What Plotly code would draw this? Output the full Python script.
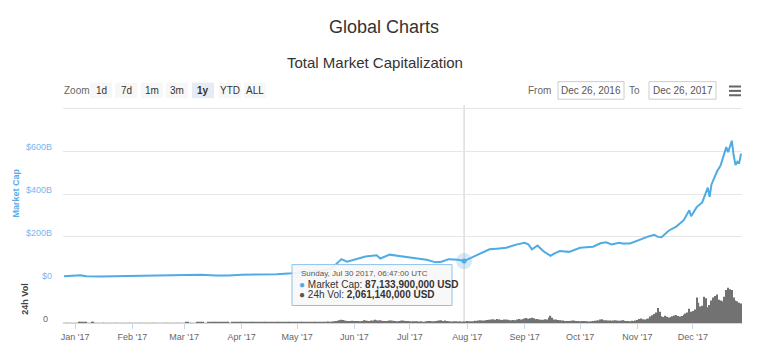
import plotly.graph_objects as go
import pandas as pd

# ---------------- data ----------------
mc_dates = ["2016-12-26", "2017-01-01", "2017-01-04", "2017-01-07", "2017-01-11", "2017-01-15",
            "2017-01-22", "2017-02-01", "2017-02-10", "2017-02-20", "2017-03-01", "2017-03-10",
            "2017-03-18", "2017-03-25", "2017-04-01", "2017-04-10", "2017-04-20", "2017-04-28",
            "2017-05-05", "2017-05-12", "2017-05-17", "2017-05-20", "2017-05-23", "2017-05-25",
            "2017-05-28", "2017-06-02", "2017-06-07", "2017-06-13", "2017-06-15", "2017-06-20",
            "2017-06-25", "2017-06-29", "2017-07-04", "2017-07-10", "2017-07-15", "2017-07-18",
            "2017-07-22", "2017-07-27", "2017-07-30 06:47", "2017-08-06", "2017-08-10", "2017-08-13",
            "2017-08-17", "2017-08-22", "2017-08-25", "2017-08-28", "2017-09-01", "2017-09-03",
            "2017-09-05", "2017-09-08", "2017-09-11", "2017-09-15", "2017-09-17", "2017-09-20",
            "2017-09-25", "2017-10-01", "2017-10-08", "2017-10-12", "2017-10-15", "2017-10-18",
            "2017-10-22", "2017-10-24", "2017-10-28", "2017-11-02", "2017-11-07", "2017-11-10",
            "2017-11-12", "2017-11-14", "2017-11-18", "2017-11-22", "2017-11-26", "2017-11-29",
            "2017-11-30", "2017-12-03", "2017-12-06", "2017-12-09", "2017-12-10", "2017-12-11",
            "2017-12-14", "2017-12-16", "2017-12-18", "2017-12-19", "2017-12-20", "2017-12-22",
            "2017-12-23", "2017-12-24", "2017-12-25", "2017-12-26", "2017-12-27"]
mc_values = [16, 17.5, 21, 16, 14, 15,
             15.5, 16.5, 16.5, 18, 21, 22.5,
             19.5, 19, 23, 24, 26, 30,
             35, 38, 45, 55, 81, 96,
             84, 96, 108, 114, 99, 117,
             111, 104, 101, 93, 81, 84,
             96, 93, 87.1339, 114, 128, 142,
             145, 149, 157, 165, 172, 165,
             142, 160, 134, 111, 122, 134,
             130, 149, 154, 170, 175, 165,
             172, 169, 169, 187, 202, 210,
             200, 198, 230, 248, 278, 324,
             296, 339, 361, 430, 387, 445,
             505, 535, 596, 619, 596, 649,
             581, 535, 551, 546, 589]

# daily 24h volume (billion USD), Dec 26 2016 .. Dec 27 2017
vol_dec16 = [0.2, 0.25, 0.3, 0.35, 0.3, 0.25]
vol_jan = [0.3, 0.45, 0.6, 0.9, 1.1, 0.8, 0.5, 0.4, 0.4, 0.5, 0.6, 0.4, 0.3, 0.3, 0.25, 0.25,
           0.3, 0.3, 0.25, 0.25, 0.2, 0.2, 0.2, 0.25, 0.2, 0.2, 0.2, 0.2, 0.2, 0.2, 0.25]
vol_feb = [0.25, 0.25, 0.3, 0.3, 0.25, 0.25, 0.3, 0.3, 0.3, 0.35, 0.3, 0.25, 0.25, 0.3,
           0.3, 0.3, 0.3, 0.3, 0.25, 0.3, 0.3, 0.35, 0.4, 0.45, 0.35, 0.3, 0.35, 0.4]
vol_mar = [0.45, 0.5, 0.55, 0.45, 0.4, 0.4, 0.45, 0.5, 0.5, 0.55, 0.5, 0.45, 0.45, 0.55, 0.6, 0.6,
           0.65, 0.7, 0.6, 0.55, 0.5, 0.55, 0.5, 0.5, 0.5, 0.45, 0.5, 0.5, 0.55, 0.55, 0.5]
vol_apr = [0.5, 0.55, 0.6, 0.6, 0.6, 0.65, 0.6, 0.55, 0.5, 0.55, 0.55, 0.55, 0.6, 0.55, 0.5,
           0.5, 0.55, 0.6, 0.6, 0.65, 0.6, 0.6, 0.6, 0.7, 0.7, 0.9, 0.9, 0.9, 0.8, 0.8]
vol_may = [0.9, 1.0, 1.1, 1.2, 1.3, 1.2, 1.1, 1.2, 1.4, 1.5, 1.5, 1.3, 1.2, 1.2, 1.4, 1.6,
           1.8, 2.0, 1.8, 2.0, 2.4, 2.6, 3.0, 3.8, 4.5, 4.0, 3.2, 2.8, 2.6, 2.8, 3.0]
vol_jun = [2.6, 2.8, 2.6, 2.4, 2.6, 3.6, 3.4, 3.0, 2.8, 3.2, 3.4, 4.4, 3.6, 3.2, 3.8,
           3.0, 2.8, 2.6, 2.8, 3.4, 3.2, 3.0, 2.6, 2.4, 2.6, 3.0, 3.4, 3.0, 2.8, 2.6]
vol_jul = [2.4, 2.0, 2.2, 2.4, 2.2, 2.0, 2.2, 1.8, 1.6, 2.4, 2.6, 2.8, 2.2, 2.4, 2.6, 3.0,
           3.4, 3.6, 2.8, 3.2, 2.6, 2.4, 2.0, 2.0, 2.2, 2.4, 2.0, 2.2, 1.8, 2.06, 2.0]
vol_aug = [2.6, 2.4, 2.2, 2.4, 3.0, 2.8, 3.2, 3.6, 3.4, 3.2, 3.8, 4.0, 4.4, 4.8, 5.0, 4.2,
           5.2, 4.6, 4.4, 4.0, 4.8, 4.6, 4.2, 3.8, 3.6, 4.0, 3.8, 4.6, 5.4, 4.8, 5.0]
vol_sep = [6.0, 6.8, 5.6, 6.4, 7.0, 6.2, 5.0, 5.4, 4.6, 4.2, 4.4, 5.0, 4.6, 7.4, 9.8,
           7.0, 4.8, 4.6, 4.0, 3.6, 3.4, 3.2, 2.8, 2.6, 2.8, 3.0, 3.2, 3.0, 2.8, 2.6]
vol_oct = [2.4, 2.6, 2.8, 2.4, 2.2, 2.0, 2.2, 2.6, 3.0, 3.2, 3.4, 4.6, 5.0, 3.8, 3.6, 3.4,
           3.2, 3.0, 3.4, 3.6, 3.2, 3.0, 3.4, 3.6, 3.0, 2.8, 2.6, 2.4, 3.0, 2.8, 3.2]
vol_nov = [4.0, 5.2, 6.0, 5.0, 4.6, 5.4, 6.0, 8.6, 10.4, 12.0, 14.0, 20.0, 15.0, 9.0, 8.0,
           9.6, 8.4, 7.4, 8.0, 9.0, 10.0, 10.6, 9.4, 8.8, 9.4, 11.0, 12.6, 14.0, 19.0, 15.0]
vol_dec = [16, 18, 34, 27, 22, 23, 35, 33, 21, 24, 30, 34, 36, 38, 31, 30, 29, 35,
           44, 47, 45, 44, 34, 30, 29, 27, 26]

vol_values = (vol_dec16 + vol_jan + vol_feb + vol_mar + vol_apr + vol_may + vol_jun + vol_jul
              + vol_aug + vol_sep + vol_oct + vol_nov + vol_dec)
vol_dates = pd.date_range("2016-12-26", periods=len(vol_values), freq="D")

mc_ticks = [0, 200, 400, 600, 800]
mc_ticktext = ["$0", "$200B", "$400B", "$600B", ""]

hover_date = "2017-07-30 06:47"
hover_mc = 87.1339
hover_header = "Sunday, Jul 30 2017, 06:47:00 UTC"
hover_mc_text = "87,133,900,000 USD"
hover_vol_text = "2,061,140,000 USD"

zoom_buttons = ["1d", "7d", "1m", "3m", "1y", "YTD", "ALL"]
from_date = "Dec 26, 2016"
to_date = "Dec 26, 2017"

# ---------------- layout helpers ----------------
W, H = 768, 354
L, R, T, B = 63, 26, 105, 25
PW, PH = W - L - R, H - T - B


def px(x):
    return (x - L) / PW


def py(y):
    return (H - B - y) / PH


FONT = "Liberation Sans, Arial, Helvetica, sans-serif"
LINE_C = "#4fabe4"

fig = go.Figure()

fig.add_trace(go.Bar(x=vol_dates, y=vol_values, yaxis="y2", xaxis="x",
                     marker=dict(color="#727272", line=dict(width=0)),
                     hoverinfo="skip", showlegend=False))

fig.add_trace(go.Scatter(x=mc_dates, y=mc_values, mode="lines", yaxis="y", xaxis="x",
                         line=dict(color=LINE_C, width=2), hoverinfo="skip", showlegend=False))

# hover halo + point
fig.add_trace(go.Scatter(x=[hover_date], y=[hover_mc], mode="markers", yaxis="y",
                         marker=dict(size=16, color="rgba(79,171,228,0.25)"),
                         hoverinfo="skip", showlegend=False))
fig.add_trace(go.Scatter(x=[hover_date], y=[hover_mc], mode="markers", yaxis="y",
                         marker=dict(size=5, color=LINE_C),
                         hoverinfo="skip", showlegend=False))

shapes = []
annotations = []

# crosshair
shapes.append(dict(type="line", xref="x", yref="paper", x0=hover_date, x1=hover_date,
                   y0=0, y1=1, line=dict(color="#cccccc", width=1), layer="below"))

# tooltip box
x0, x1, y0, y1 = px(292), px(452), py(311), py(269)
shapes.append(dict(type="rect", xref="paper", yref="paper", x0=x0, x1=x1, y0=y0, y1=y1,
                   fillcolor="rgba(247,247,247,0.92)", line=dict(color="#8cc3ee", width=1),
                   layer="above"))
annotations.append(dict(x=px(299), y=py(278.5), xref="paper", yref="paper", xanchor="left",
                        yanchor="middle", showarrow=False, text=hover_header,
                        font=dict(family=FONT, size=8, color="#555")))
annotations.append(dict(x=px(297), y=py(289.5), xref="paper", yref="paper", xanchor="left",
                        yanchor="middle", showarrow=False,
                        text=f"<span style='color:{LINE_C}'>●</span> Market Cap: <b>{hover_mc_text}</b>",
                        font=dict(family=FONT, size=10, color="#333")))
annotations.append(dict(x=px(297), y=py(300), xref="paper", yref="paper", xanchor="left",
                        yanchor="middle", showarrow=False,
                        text=f"<span style='color:#555'>●</span> 24h Vol: <b>{hover_vol_text}</b>",
                        font=dict(family=FONT, size=10, color="#333")))

# titles
annotations.append(dict(x=px(384), y=py(25), xref="paper", yref="paper", showarrow=False,
                        text="Global Charts", font=dict(family=FONT, size=18, color="#333"),
                        xanchor="center", yanchor="middle"))
annotations.append(dict(x=px(375), y=py(61), xref="paper", yref="paper", showarrow=False,
                        text="Total Market Capitalization",
                        font=dict(family=FONT, size=15, color="#333"),
                        xanchor="center", yanchor="middle"))

# range selector
annotations.append(dict(x=px(62), y=py(90), xref="paper", yref="paper", showarrow=False,
                        text="Zoom", font=dict(family=FONT, size=10, color="#666"),
                        xanchor="left", yanchor="middle"))
btn_centers = [101, 126, 152, 177, 203, 230, 255]
for lab, cx in zip(zoom_buttons, btn_centers):
    sel = lab == "1y"
    shapes.append(dict(type="rect", xref="paper", yref="paper", x0=px(cx - 11), x1=px(cx + 11),
                       y0=py(98), y1=py(82),
                       fillcolor="#e6ebf5" if sel else "#f7f7f7", line=dict(width=0)))
    annotations.append(dict(x=px(cx), y=py(90), xref="paper", yref="paper", showarrow=False,
                            text=f"<b>{lab}</b>" if sel else lab,
                            font=dict(family=FONT, size=10, color="#333"),
                            xanchor="center", yanchor="middle"))

annotations.append(dict(x=px(553), y=py(90), xref="paper", yref="paper", showarrow=False,
                        text="From", font=dict(family=FONT, size=10, color="#666"),
                        xanchor="right", yanchor="middle"))
shapes.append(dict(type="rect", xref="paper", yref="paper", x0=px(558), x1=px(624),
                   y0=py(99), y1=py(81), fillcolor="white", line=dict(color="#cccccc", width=1)))
annotations.append(dict(x=px(591), y=py(90), xref="paper", yref="paper", showarrow=False,
                        text=from_date, font=dict(family=FONT, size=10, color="#555"),
                        xanchor="center", yanchor="middle"))
annotations.append(dict(x=px(642), y=py(90), xref="paper", yref="paper", showarrow=False,
                        text="To", font=dict(family=FONT, size=10, color="#666"),
                        xanchor="right", yanchor="middle"))
shapes.append(dict(type="rect", xref="paper", yref="paper", x0=px(649), x1=px(716),
                   y0=py(99), y1=py(81), fillcolor="white", line=dict(color="#cccccc", width=1)))
annotations.append(dict(x=px(682.5), y=py(90), xref="paper", yref="paper", showarrow=False,
                        text=to_date, font=dict(family=FONT, size=10, color="#555"),
                        xanchor="center", yanchor="middle"))
for yy in (86, 90.5, 95):
    shapes.append(dict(type="line", xref="paper", yref="paper", x0=px(729), x1=px(741),
                       y0=py(yy), y1=py(yy), line=dict(color="#666", width=2)))

# axis titles
annotations.append(dict(x=px(16), y=py(196), xref="paper", yref="paper", showarrow=False,
                        text="<b>Market Cap</b>", textangle=-90,
                        font=dict(family=FONT, size=9, color="#5aaee8"),
                        xanchor="center", yanchor="middle"))
annotations.append(dict(x=px(25), y=py(305), xref="paper", yref="paper", showarrow=False,
                        text="<b>24h Vol</b>", textangle=-90,
                        font=dict(family=FONT, size=9, color="#444"),
                        xanchor="center", yanchor="middle"))

vol_dom_top = (H - B - 285.5) / PH
mc_dom_bot = (H - B - 284.5) / PH

fig.update_layout(
    width=W, height=H,
    margin=dict(l=L, r=R, t=T, b=B, pad=0),
    paper_bgcolor="white", plot_bgcolor="white",
    font=dict(family=FONT),
    bargap=0.3,
    shapes=shapes, annotations=annotations,
    xaxis=dict(type="date", range=["2016-12-25 12:00", "2017-12-27 12:00"], anchor="y2",
               dtick="M1", tick0="2017-01-01", tickformat="%b '%y",
               ticks="outside", ticklen=5, tickcolor="#ccd6eb",
               showline=True, linecolor="#ccd6eb", showgrid=False, zeroline=False,
               tickfont=dict(family=FONT, size=9, color="#666")),
    yaxis=dict(domain=[mc_dom_bot, 1], range=[0, (284.5 - T) / 0.22], anchor="x",
               tickvals=mc_ticks, ticktext=mc_ticktext, ticklabelshift=-4,
               showgrid=True, gridcolor="#e6e6e6", zeroline=False, showline=False,
               tickfont=dict(family=FONT, size=9, color="#7cb5ec"), ticklabelstandoff=10),
    yaxis2=dict(domain=[0, vol_dom_top], range=[0, 43.5 * 1.3], anchor="x",
                tickvals=[0], ticktext=["0"], ticklabelshift=-4,
                showgrid=False, zeroline=False, showline=False,
                tickfont=dict(family=FONT, size=9, color="#666"), ticklabelstandoff=14),
)

fig.write_html("out.html")
